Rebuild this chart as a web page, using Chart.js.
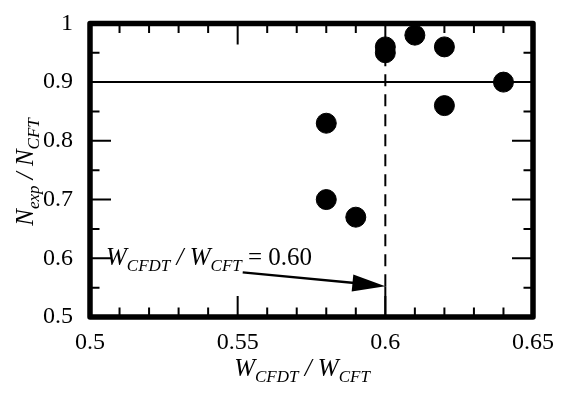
<!DOCTYPE html>
<html>
<head>
<meta charset="utf-8">
<script src="https://cdn.jsdelivr.net/npm/chart.js@4.4.0/dist/chart.umd.min.js"></script>
<style>
  html, body { margin: 0; padding: 0; background: #fff; }
  #wrap { width: 564px; height: 393px; }
</style>
</head>
<body>
<div id="wrap"><canvas id="chart" width="564" height="393"></canvas></div>
<script>
// data
const ratioW = [0.58, 0.58, 0.59, 0.60, 0.60, 0.61, 0.62, 0.62, 0.64];
const ratioN = [0.83, 0.70, 0.67, 0.96, 0.95, 0.98, 0.96, 0.86, 0.90];
const limitN = 0.9;
const limitW = 0.60;
const arrowFrom = [0.5517, 0.576];
const arrowTo = [0.60, 0.5525];

const serif = '"Liberation Serif", "Times New Roman", serif';

// draw a run of text with subscripts
function richText(ctx, parts, x, y, align) {
    let total = 0;
    const fontOf = p => (p.it ? 'italic ' : '') + (p.sub ? 17 : 25) + 'px ' + serif;
    parts.forEach(p => {
        ctx.font = fontOf(p);
        p.w = ctx.measureText(p.t).width;
        total += p.w;
    });
    let cx = align === 'center' ? x - total / 2 : x;
    parts.forEach(p => {
        ctx.font = fontOf(p);
        ctx.fillText(p.t, cx, y + (p.sub ? 6 : 0));
        cx += p.w;
    });
}

const decor = {
    id: 'decor',
    afterDraw(chart) {
        const ctx = chart.ctx;
        const x = chart.scales.x, y = chart.scales.y;
        const a = chart.chartArea;
        ctx.save();
        ctx.fillStyle = '#000';
        ctx.strokeStyle = '#000';

        // inward ticks on all four sides
        ctx.lineWidth = 2;
        x.ticks.forEach(t => {
            const px = x.getPixelForValue(t.value);
            const major = Math.round(t.value * 100) % 5 === 0;
            const len = major ? 21 : 9.5;
            ctx.beginPath();
            ctx.moveTo(px, a.bottom); ctx.lineTo(px, a.bottom - len);
            ctx.moveTo(px, a.top); ctx.lineTo(px, a.top + len);
            ctx.stroke();
        });
        y.ticks.forEach(t => {
            const py = y.getPixelForValue(t.value);
            const major = Math.round(t.value * 100) % 10 === 0;
            const len = major ? 21 : 9.5;
            ctx.beginPath();
            ctx.moveTo(a.left, py); ctx.lineTo(a.left + len, py);
            ctx.moveTo(a.right, py); ctx.lineTo(a.right - len, py);
            ctx.stroke();
        });

        // frame
        ctx.lineWidth = 5.5;
        ctx.lineJoin = 'round';
        ctx.strokeRect(a.left, a.top, a.right - a.left, a.bottom - a.top);

        // arrow head
        const tx = x.getPixelForValue(arrowTo[0]), ty = y.getPixelForValue(arrowTo[1]);
        const fx = x.getPixelForValue(arrowFrom[0]), fy = y.getPixelForValue(arrowFrom[1]);
        const ang = Math.atan2(ty - fy, tx - fx);
        const L = 33, H = 8.5;
        ctx.beginPath();
        ctx.moveTo(tx, ty);
        ctx.lineTo(tx - L * Math.cos(ang) + H * Math.sin(ang), ty - L * Math.sin(ang) - H * Math.cos(ang));
        ctx.lineTo(tx - L * Math.cos(ang) - H * Math.sin(ang), ty - L * Math.sin(ang) + H * Math.cos(ang));
        ctx.closePath();
        ctx.fill();

        ctx.textBaseline = 'alphabetic';
        // annotation
        richText(ctx, [
            { t: 'W', it: true }, { t: 'CFDT', it: true, sub: true },
            { t: ' / W', it: true }, { t: 'CFT', it: true, sub: true },
            { t: ' = 0.60' }
        ], 106, 265, 'left');

        // x title
        richText(ctx, [
            { t: 'W', it: true }, { t: 'CFDT', it: true, sub: true },
            { t: ' / W', it: true }, { t: 'CFT', it: true, sub: true }
        ], 302, 376, 'center');

        // y title
        ctx.translate(33, 172);
        ctx.rotate(-Math.PI / 2);
        richText(ctx, [
            { t: 'N', it: true }, { t: 'exp', it: true, sub: true },
            { t: ' / N', it: true }, { t: 'CFT', it: true, sub: true }
        ], 0, 0, 'center');
        ctx.restore();
    }
};

new Chart(document.getElementById('chart'), {
    type: 'scatter',
    data: {
        datasets: [
            {
                data: ratioW.map((w, i) => ({ x: w, y: ratioN[i] })),
                backgroundColor: '#000',
                borderColor: '#000',
                pointRadius: 10,
                pointBorderWidth: 1,
                order: 0
            },
            {
                type: 'line',
                data: [{ x: 0.5, y: limitN }, { x: 0.65, y: limitN }],
                borderColor: '#000',
                borderWidth: 2,
                pointRadius: 0,
                order: 1
            },
            {
                type: 'line',
                data: [{ x: limitW, y: arrowTo[1] }, { x: limitW, y: 0.96 }],
                borderColor: '#000',
                borderWidth: 2,
                borderDash: [12, 8],
                pointRadius: 0,
                order: 1
            },
            {
                type: 'line',
                data: [{ x: limitW, y: 0.5 }, { x: limitW, y: arrowTo[1] }],
                borderColor: '#000',
                borderWidth: 2,
                pointRadius: 0,
                order: 1
            },
            {
                type: 'line',
                data: [{ x: arrowFrom[0], y: arrowFrom[1] }, { x: arrowTo[0] - 0.005, y: arrowTo[1] + 0.003 }],
                borderColor: '#000',
                borderWidth: 2.5,
                pointRadius: 0,
                order: 1
            }
        ]
    },
    options: {
        responsive: false,
        animation: false,
        layout: { padding: { left: 0, right: 31, top: 20, bottom: 0 } },
        plugins: { legend: { display: false }, tooltip: { enabled: false } },
        scales: {
            x: {
                type: 'linear',
                min: 0.5, max: 0.65,
                afterFit: s => { s.height = 76; },
                grid: { display: false },
                border: { display: false },
                ticks: {
                    stepSize: 0.01,
                    autoSkip: false,
                    maxRotation: 0,
                    padding: 3,
                    color: '#000',
                    font: { family: serif, size: 24 },
                    callback: v => Math.round(v * 100) % 5 === 0 ? String(Math.round(v * 100) / 100) : ''
                }
            },
            y: {
                type: 'linear',
                min: 0.5, max: 1,
                afterFit: s => { s.width = 90; },
                grid: { display: false },
                border: { display: false },
                ticks: {
                    stepSize: 0.05,
                    autoSkip: false,
                    padding: 9,
                    color: '#000',
                    font: { family: serif, size: 24 },
                    callback: v => Math.round(v * 100) % 10 === 0 ? String(Math.round(v * 10) / 10) : ''
                }
            }
        }
    },
    plugins: [decor]
});
</script>
</body>
</html>
